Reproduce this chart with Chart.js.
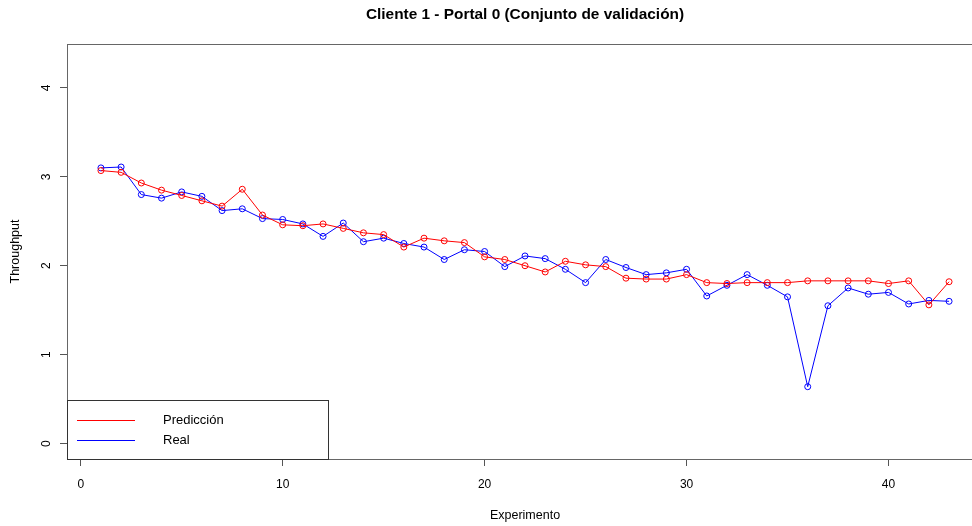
<!DOCTYPE html>
<html>
<head>
<meta charset="utf-8">
<script src="https://cdn.jsdelivr.net/npm/chart.js@4"></script>
<style>
  html, body { margin: 0; padding: 0; background: #fff; }
  #wrap { width: 972px; height: 526px; overflow: hidden; position: relative; }
</style>
</head>
<body>
<div id="wrap"><canvas id="chart" width="988" height="526"></canvas></div>
<script>
// datos
const experimentos = [1, 2, 3, 4, 5, 6, 7, 8, 9, 10, 11, 12, 13, 14, 15, 16, 17, 18, 19, 20, 21, 22,
  23, 24, 25, 26, 27, 28, 29, 30, 31, 32, 33, 34, 35, 36, 37, 38, 39, 40, 41, 42, 43];
const prediccion = [3.07, 3.05, 2.93, 2.85, 2.79, 2.73, 2.67, 2.86, 2.57, 2.46, 2.45, 2.47, 2.42, 2.37,
  2.35, 2.21, 2.31, 2.28, 2.26, 2.10, 2.07, 2.00, 1.93, 2.05, 2.01, 1.99, 1.86, 1.85, 1.85, 1.90,
  1.81, 1.80, 1.81, 1.81, 1.81, 1.83, 1.83, 1.83, 1.83, 1.80, 1.83, 1.56, 1.82];
const real = [3.10, 3.11, 2.80, 2.76, 2.83, 2.78, 2.62, 2.64, 2.53, 2.52, 2.47, 2.33, 2.48, 2.27,
  2.31, 2.25, 2.21, 2.07, 2.18, 2.16, 1.99, 2.11, 2.08, 1.96, 1.81, 2.07, 1.98, 1.90, 1.92, 1.96,
  1.66, 1.78, 1.90, 1.78, 1.65, 0.64, 1.55, 1.75, 1.68, 1.70, 1.57, 1.61, 1.60];
const xTicks = [0, 10, 20, 30, 40];
const yTicks = [0, 1, 2, 3, 4];
const titulo = 'Cliente 1 - Portal 0 (Conjunto de validación)';
const series = ['Predicción', 'Real'];
const colores = ['#ff0000', '#0000ff'];

const FONT = 'Arial, "Liberation Sans", sans-serif';

const toPoints = vals => vals.map((v, i) => ({ x: experimentos[i], y: v }));

// marco, título, etiquetas del eje y y leyenda al estilo de R
const rStyle = {
  id: 'rStyle',
  afterDraw(chart) {
    const { ctx, chartArea: a, scales } = chart;
    ctx.save();
    ctx.strokeStyle = '#666';
    ctx.lineWidth = 1;
    ctx.strokeRect(a.left + 0.5, a.top + 0.5, a.right - a.left, a.bottom - a.top);

    // título
    ctx.fillStyle = '#000';
    ctx.font = 'bold 15.4px ' + FONT;
    ctx.textAlign = 'center';
    ctx.textBaseline = 'middle';
    ctx.fillText(titulo, (a.left + a.right) / 2, 15);

    // etiquetas del eje y (giradas)
    ctx.font = '12px ' + FONT;
    scales.y.ticks.forEach(t => {
      const py = scales.y.getPixelForValue(t.value);
      ctx.save();
      ctx.translate(a.left - 20, py);
      ctx.rotate(-Math.PI / 2);
      ctx.fillText(String(t.value), 0, 0);
      ctx.restore();
    });

    // leyenda
    const lx = a.left, ly = a.bottom - 59;
    ctx.fillStyle = '#fff';
    ctx.fillRect(lx, ly, 261, 59);
    ctx.strokeStyle = '#333';
    ctx.strokeRect(lx + 0.5, ly + 0.5, 261, 59);
    ctx.font = '13px ' + FONT;
    series.forEach((s, i) => {
      const yy = ly + 20 + i * 20;
      ctx.strokeStyle = colores[i];
      ctx.beginPath();
      ctx.moveTo(lx + 10, yy + 0.5);
      ctx.lineTo(lx + 68, yy + 0.5);
      ctx.stroke();
      ctx.fillStyle = '#000';
      ctx.textAlign = 'left';
      ctx.fillText(s, lx + 96, yy);
    });
    ctx.restore();
  }
};

new Chart(document.getElementById('chart'), {
  type: 'line',
  data: {
    datasets: [prediccion, real].map((vals, i) => ({
      label: series[i],
      data: toPoints(vals),
      borderColor: colores[i],
      borderWidth: 1,
      tension: 0,
      pointStyle: 'circle',
      pointRadius: 3,
      pointBorderWidth: 1,
      pointBorderColor: colores[i],
      pointBackgroundColor: 'rgba(0,0,0,0)'
    }))
  },
  options: {
    responsive: false,
    animation: false,
    devicePixelRatio: 1,
    layout: { padding: { top: 44, right: 3, left: 0, bottom: 0 } },
    plugins: {
      legend: { display: false },
      title: { display: false },
      tooltip: { enabled: false }
    },
    scales: {
      x: {
        type: 'linear',
        min: -0.68,
        max: 44.68,
        afterBuildTicks: s => { s.ticks = xTicks.map(v => ({ value: v })); },
        afterFit: s => { s.height = 67; },
        grid: { display: true, drawOnChartArea: false, drawTicks: true, tickLength: 7, color: '#555' },
        border: { display: false },
        ticks: { color: '#000', font: { family: FONT, size: 12 }, padding: 11, autoSkip: false, maxRotation: 0 },
        title: { display: true, text: 'Experimento', color: '#000', font: { family: FONT, size: 12.5 }, padding: { top: 0, bottom: 3 } }
      },
      y: {
        type: 'linear',
        min: -0.173,
        max: 4.493,
        afterBuildTicks: s => { s.ticks = yTicks.map(v => ({ value: v })); },
        afterFit: s => { s.width = 67; },
        grid: { display: true, drawOnChartArea: false, drawTicks: true, tickLength: 7, color: '#555' },
        border: { display: false },
        ticks: { display: false },
        title: { display: true, text: 'Throughput', color: '#000', font: { family: FONT, size: 12.5 }, padding: { top: 8, bottom: 0 } }
      }
    }
  },
  plugins: [rStyle]
});
</script>
</body>
</html>
